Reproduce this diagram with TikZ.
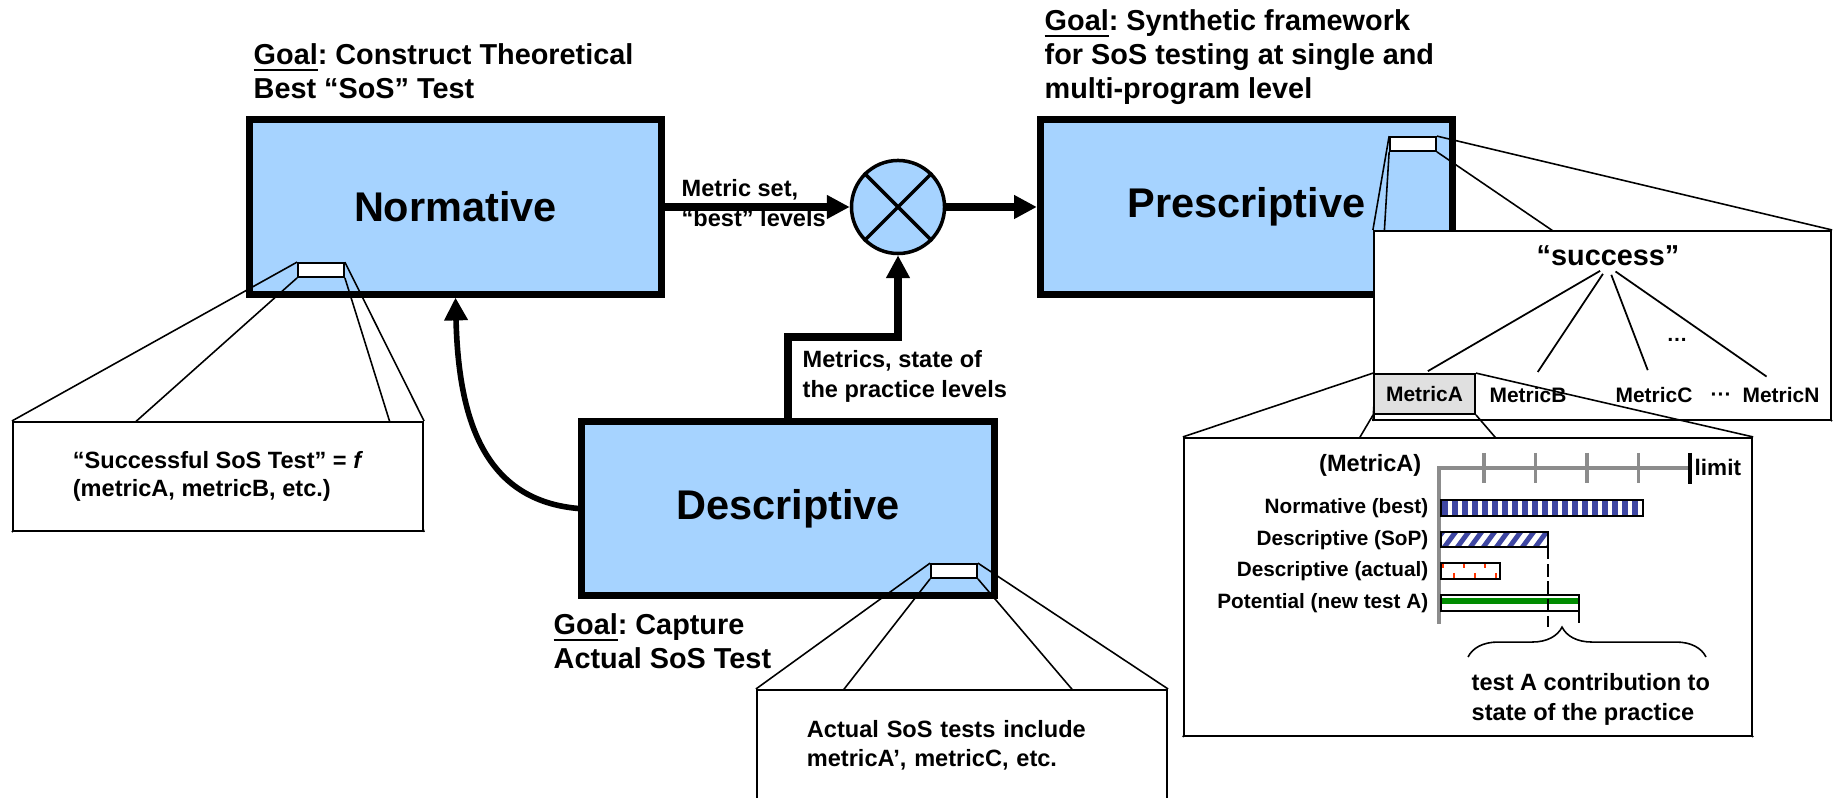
\documentclass[tikz,border=0pt]{standalone}
\usepackage{fontspec}
\setmainfont{Liberation Sans}
\usetikzlibrary{arrows.meta, positioning, decorations.pathreplacing}
\frenchspacing
\definecolor{stageblue}{HTML}{A6D3FF}
\definecolor{barnavy}{HTML}{3F47A3}
\definecolor{barred}{HTML}{FF3300}
\definecolor{bargreen}{HTML}{008C00}
\definecolor{axisgray}{HTML}{8C8C8C}
\definecolor{boxgray}{HTML}{E0E0E0}
\pgfdeclarelayer{base}
\pgfdeclarelayer{zoomlines}
\pgfdeclarelayer{metriclines}
\pgfdeclarelayer{front}
\pgfsetlayers{base,zoomlines,main,metriclines,front}
\newcommand{\fsz}[2]{\fontsize{#1pt}{#2pt}\selectfont\bfseries}
\tikzset{
  % main stages
  stage/.style={draw=black, line width=2pt, fill=stageblue, minimum width=4.12cm,
    minimum height=1.74cm, font=\fsz{11.8}{14}},
  % summing junction
  junction/.style={circle, draw=black, line width=1pt, fill=stageblue,
    minimum size=0.93cm, inner sep=0pt},
  flow/.style={-{Triangle[length=6.5pt, width=6.4pt]}, line width=2pt},
  % text
  goal/.style={anchor=west, align=left, inner sep=0pt, font=\fsz{8.2}{9.6}},
  lbl/.style={anchor=west, align=left, inner sep=0pt, font=\fsz{6.7}{8.5}},
  % callouts
  note/.style={draw=black, line width=0.55pt, fill=white, align=left, font=\fsz{6.7}{8.1}},
  zoomrect/.style={draw=black, line width=0.5pt, fill=white, minimum width=0.46cm,
    minimum height=0.14cm, inner sep=0pt},
  zoomline/.style={line width=0.45pt},
  treeline/.style={line width=0.5pt},
  metric/.style={inner sep=0pt, font=\fsz{5.95}{7}},
  % bar chart
  barlbl/.style={anchor=east, inner sep=0pt, font=\fsz{5.9}{7}},
  bar/.style={draw=black, line width=0.45pt},
  axisline/.style={axisgray, line width=1.4pt},
  guide/.style={line width=0.4pt, dash pattern=on 3.5pt off 1.4pt},
}

\begin{document}
\begin{tikzpicture}[x=0.01cm, y=-0.01cm]
  \useasboundingbox (0,0) rectangle (1837,798);
  \begin{pgfonlayer}{base}
    \node[stage] (norm) at (455.5,207) {Normative};
    \node[stage] (presc) at (1246.5,207) {Prescriptive};
    \node[stage] (desc) at (788,508.5) {Descriptive};
    \node[junction] (sum) at (898,207) {};
    \draw[line width=1pt] (sum.north west) -- (sum.south east) (sum.north east) -- (sum.south west);
    \draw[flow] (norm.east) -- (sum.west);
    \draw[flow] (sum.east) -- (presc.west);
    \coordinate (bend) at (788,337);
    \draw[flow] (desc.north) -- (bend) -| (sum.south);
    \draw[flow, line width=1.6pt] (desc.west) .. controls +(-92,-8) and +(3,126) .. (norm.south);
  \end{pgfonlayer}
  \node[goal] (normgoal) at (253,71.5) {\underline{Goal}: Construct Theoretical\\Best “SoS” Test};
  \node[goal] (prescgoal) at (1044,57) {\underline{Goal}: Synthetic framework\\for SoS testing at single and\\multi-program level};
  \node[goal] (descgoal) at (553,641.5) {\underline{Goal}: Capture\\Actual SoS Test};
  \node[lbl] (setlbl) at (681,203) {Metric set,\\“best” levels};
  \node[lbl] (practlbl) at (802,376) {Metrics, state of\\the practice levels};

  % callouts
  \node[note, minimum width=4.10cm, minimum height=1.09cm] (nnote) at (218,476.5)
    {“Successful SoS Test” = \textit{f}\\(metricA, metricB, etc.)};
  \node[zoomrect] (nz) at (321,270) {};
  \node[note, minimum width=4.10cm, minimum height=1.11cm, text width=3.1cm] (dnote) at (962,745.5)
    {Actual SoS tests include\\metricA’, metricC, etc.};
  \node[zoomrect] (dz) at (954,571) {};
  \node[note, minimum width=4.57cm, minimum height=1.89cm] (succbox) at (1602.5,325.5) {};
  \node[zoomrect] (pz) at (1413,144) {};

  % success tree
  \node[inner sep=0pt, font=\fsz{8.2}{9.6}] (succ) at (1608,255.5) {“success”};
  \node[metric, draw=black, line width=0.5pt, fill=boxgray, minimum width=1.01cm,
    minimum height=0.40cm] (mA) at (1424.5,394) {MetricA};
  \node[metric] (mB) at (1528,395) {MetricB};
  \node[metric] (mC) at (1654,395) {MetricC};
  \node[metric] (mN) at (1781,395) {MetricN};
  \node[metric, anchor=base] (mdots) at (1721,402) {···};
  \node[metric, anchor=base] (tdots) at (1677,342) {…};
  \foreach \m/\s in {mA/1.1pt, mB/5pt, mC/5pt, mN/5pt}
    \draw[treeline, shorten <=2.6pt, shorten >=\s] (succ.south) -- (\m.north);

  \begin{pgfonlayer}{zoomlines}
    \foreach \z/\n in {nz/nnote, dz/dnote, pz/succbox}
      \foreach \a in {north west, north east, south west, south east}
        \draw[zoomline] (\z.\a) -- (\n.\a);
  \end{pgfonlayer}

  \begin{pgfonlayer}{front}
    \node[note, minimum width=5.68cm, minimum height=2.98cm] (mbox) at (1468,587) {};
    % axis
    \draw[axisline] (1690,468) -- (1439,468) -- (1439,624);
    \foreach \i in {1,...,4}
      \draw[axisgray, line width=1.1pt] (1432.5+51.5*\i,453) -- ++(0,30);
    \draw[line width=1.4pt] (1690,453) -- ++(0,31);
    \node[lbl, font=\fsz{6.4}{7.5}] (limit) at (1694,467) {limit};
    \node[lbl, anchor=east] (axname) at (1422,465) {(MetricA)};
    % Normative (best)
    \foreach \i in {0,...,19}
      \fill[barnavy] (1442+10*\i,500) rectangle ++(6,16);
    \draw[bar] (1441,500) rectangle (1643,516);
    % Descriptive (SoP)
    \begin{scope}
      \clip (1441,532) rectangle (1548,547);
      \foreach \i in {0,...,9}
        \draw[barnavy, line width=1.4pt] (1430+13*\i,549) -- ++(14,-19);
    \end{scope}
    \draw[bar] (1441,532) rectangle (1548,547);
    % Descriptive (actual)
    \foreach \i in {0,1,2} {
      \draw[barred, line width=0.5pt] (1443+21*\i,564) -- ++(0,4);
      \draw[barred, line width=0.5pt] (1454+21*\i,573) -- ++(0,5);
    }
    \draw[bar] (1441,563) rectangle (1500,579);
    % Potential (new test A)
    \fill[bargreen] (1441,598) rectangle (1579,604);
    \draw[bar] (1441,595) rectangle (1579,611);
    \node[barlbl] (lbest) at (1429,508) {Normative (best)};
    \node[barlbl] (lsop) at (1429,540) {Descriptive (SoP)};
    \node[barlbl] (lact) at (1429,571) {Descriptive (actual)};
    \node[barlbl] (lpot) at (1429,603) {Potential (new test A)};
    \draw[guide] (1548,547) -- (1548,627);
    \draw[guide] (1579,611) -- (1579,627);
    \draw[decorate, decoration={brace, amplitude=8.5pt, aspect=0.395}, line width=0.45pt]
      (1468,657) -- (1706,657);
    \node[lbl] (contrib) at (1471,699) {test A contribution to\\state of the practice};
  \end{pgfonlayer}

  \begin{pgfonlayer}{metriclines}
    \foreach \a in {north west, north east, south west, south east}
      \draw[zoomline] (mA.\a) -- (mbox.\a);
  \end{pgfonlayer}
\end{tikzpicture}
\end{document}
